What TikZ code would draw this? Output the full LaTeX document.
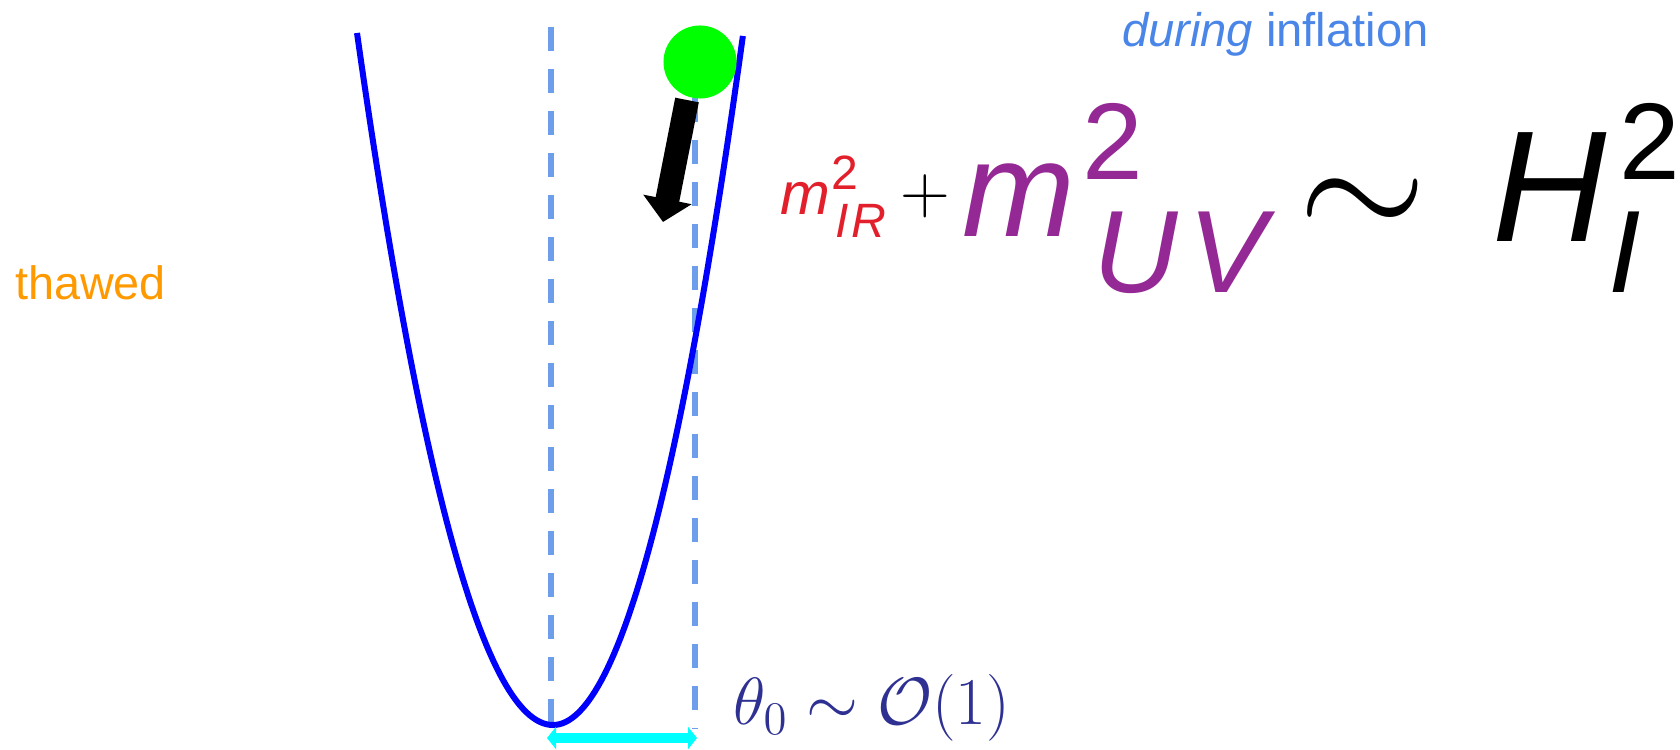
\RequirePackage{fix-cm}
\documentclass[tikz,border=0pt]{standalone}
\usepackage{fontspec}
\usetikzlibrary{arrows.meta}
\newfontfamily\slidefont{Liberation Sans}

\definecolor{curveblue}{RGB}{0,0,255}
\definecolor{guideblue}{RGB}{109,158,235}
\definecolor{titleblue}{RGB}{74,134,232}
\definecolor{thaworange}{RGB}{255,153,0}
\definecolor{ballgreen}{RGB}{0,255,0}
\definecolor{shiftcyan}{RGB}{0,255,255}
\definecolor{irred}{RGB}{226,32,44}
\definecolor{uvpurple}{RGB}{148,40,148}
\definecolor{thetanavy}{RGB}{46,49,146}

\begin{document}
\begin{tikzpicture}[x=0.01cm, y=-0.01cm, >=stealth,
    guide/.style={guideblue, line width=0.06cm, dash pattern=on 0.24cm off 0.18cm},
    glyph/.style={anchor=base west, inner sep=0pt, outer sep=0pt},
    shifttip/.tip={Triangle[length=0.09cm, width=0.22cm]}]
    \useasboundingbox (0,0) rectangle (1680,749);

    % 1. 两条竖直虚线 (极小值处 与 初始位置)
    \coordinate (minTop) at (551,27);
    \coordinate (minBot) at (551,725);
    \coordinate (startTop) at (695,56);
    \coordinate (startBot) at (695,729);
    \draw[guide] (minTop) -- (minBot);
    \draw[guide] (startTop) -- (startBot);

    % 2. 势阱曲线 (左右两半略有不同)
    \draw[curveblue, line width=0.06cm]
        plot[domain=-1:0, samples=60] ({553+196*\x}, {725-692*\x*\x})
        -- plot[domain=0:1, samples=60] ({553+190*\x}, {725-690*\x*\x});

    % 3. 小球与下滚箭头
    \node[circle, fill=ballgreen, minimum size=0.73cm, inner sep=0pt] (ball) at (700,62) {};
    \coordinate (pushStart) at (687,100);
    \coordinate (pushEnd) at (663,222);
    \draw[line width=0.24cm, -{Triangle[length=0.23cm, width=0.48cm]}] (pushStart) -- (pushEnd);

    % 4. 初始位移 theta_0
    \coordinate (shiftL) at (547,738);
    \coordinate (shiftR) at (697,738);
    \draw[shiftcyan, line width=0.1cm, shifttip-shifttip] (shiftL) -- (shiftR);
    \node[glyph, thetanavy, font={\fontsize{19pt}{22pt}\selectfont}] (theta) at (733,724)
        {$\theta_0\sim\mathcal{O}(1)$};

    % 5. 文字标注
    \node[glyph, thaworange, font={\slidefont\fontsize{13.3pt}{16pt}\selectfont}] (thawed) at (15,300) {thawed};
    \node[glyph, titleblue, font={\slidefont\fontsize{13.4pt}{16pt}\selectfont}] (during) at (1122,47)
        {\textit{during} inflation};

    % 6. 质量关系 m_IR^2 + m_UV^2 ~ H_I^2
    \node[glyph, irred, font={\slidefont\itshape\fontsize{17pt}{20pt}\selectfont}] (irM) at (780,215) {m};
    \node[glyph, irred, font={\slidefont\fontsize{13.7pt}{16pt}\selectfont}] (irSup) at (831,190) {2};
    \node[glyph, irred, font={\slidefont\itshape\fontsize{13.7pt}{16pt}\selectfont}] (irSub) at (835,238) {I\kern1pt R};
    \node[anchor=base, inner sep=0pt, font={\fontsize{19.6pt}{22pt}\selectfont}] (plus) at (925,214) {$+$};
    \node[glyph, uvpurple, font={\slidefont\itshape\fontsize{38.5pt}{44pt}\selectfont}] (uvM) at (962,237) {m};
    \node[glyph, uvpurple, font={\slidefont\fontsize{31pt}{36pt}\selectfont}] (uvSup) at (1082,180) {2};
    \node[glyph, uvpurple, font={\slidefont\itshape\fontsize{33.3pt}{38pt}\selectfont}] (uvSub) at (1093,292) {U\kern3pt V};
    \node[anchor=base, inner sep=0pt, font={\fontsize{47pt}{52pt}\selectfont}] (sim) at (1363,240) {$\sim$};
    \node[glyph, font={\slidefont\itshape\fontsize{45pt}{52pt}\selectfont}] (hH) at (1492,242) {H};
    \node[glyph, font={\slidefont\fontsize{31pt}{36pt}\selectfont}] (hSup) at (1619,180) {2};
    \node[glyph, font={\slidefont\itshape\fontsize{33.3pt}{38pt}\selectfont}] (hSub) at (1608,292) {I};
\end{tikzpicture}
\end{document}
